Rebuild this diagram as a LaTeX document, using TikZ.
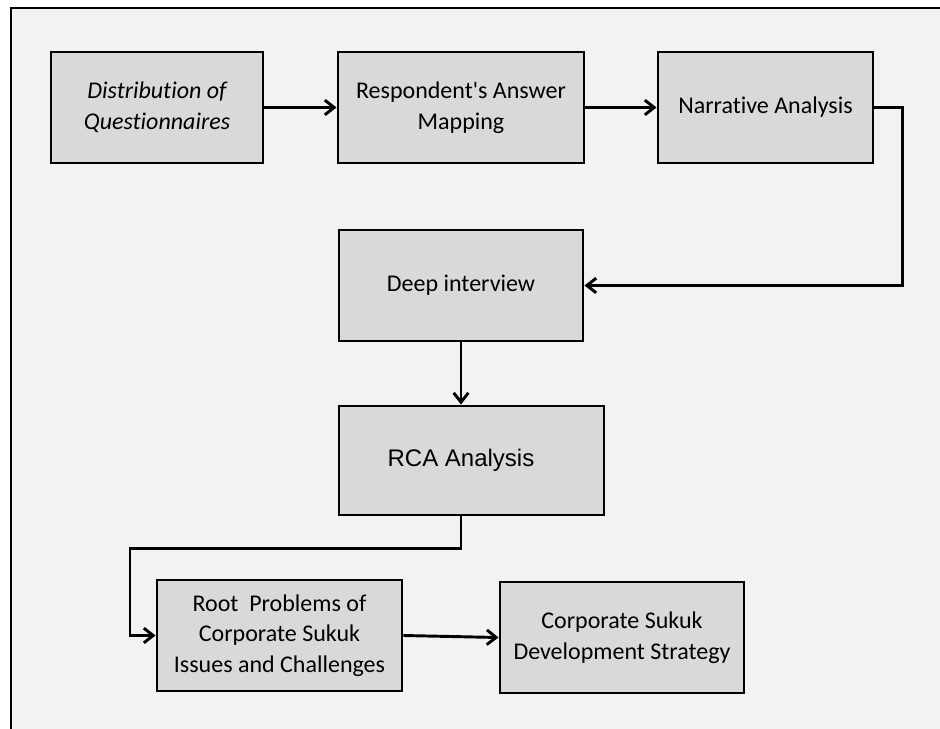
\documentclass[tikz,border=0pt]{standalone}
\usepackage{fontspec}
\setmainfont{Carlito}[Ligatures={TeXOff,NoCommon}]
\newfontfamily\arialfont{Liberation Sans}
\usetikzlibrary{arrows.meta}
\newlength\pxu
\setlength\pxu{0.75pt}
\definecolor{boxfill}{HTML}{D9D9D9}
\definecolor{panel}{HTML}{F2F2F2}
\tikzset{
  stepbox/.style={draw=black, line width=2.2pt, fill=boxfill, align=center,
    inner sep=2pt, font=\fontsize{18}{23}\selectfont},
  conn/.style={line width=2.2pt, -{Straight Barb[length=7pt,width=11pt]}}
}
\begin{document}
\begin{tikzpicture}[x=0.75pt,y=-0.75pt]
  \useasboundingbox (0,0) rectangle (940,729);
  \clip (0,0) rectangle (940,729);
  \fill[white] (0,0) rectangle (940,729);
  % panel frame, open to the right and bottom
  \draw[line width=1.8pt, fill=panel] (11,8) rectangle (960,760);

  % process steps
  \node[stepbox, minimum width=212\pxu, minimum height=111\pxu] (dist) at (157,107.5)
    {\itshape Distribution of\\\itshape Questionnaires};
  \node[stepbox, minimum width=246\pxu, minimum height=111\pxu] (resp) at (461,107.5)
    {Respondent's Answer\\Mapping};
  \node[stepbox, minimum width=215\pxu, minimum height=111\pxu] (narr) at (765.5,107.5)
    {Narrative Analysis};
  \node[stepbox, minimum width=244\pxu, minimum height=111\pxu] (deep) at (461,285.5)
    {Deep interview};
  \node[stepbox, minimum width=265\pxu, minimum height=109\pxu] (rca) at (471.5,460.5) {};
  \node[font=\arialfont\fontsize{18}{21}\selectfont] (rcatext) at (461,460.5) {RCA Analysis};
  \node[stepbox, minimum width=245\pxu, minimum height=111\pxu] (root) at (279.5,635.5)
    {Root~ Problems of\\Corporate Sukuk\\Issues and Challenges};
  \node[stepbox, minimum width=244\pxu, minimum height=111\pxu] (corp) at (622,637.5)
    {Corporate Sukuk\\Development Strategy};

  % connectors
  \draw[conn] (dist.east) -- (resp.west);
  \draw[conn] (resp.east) -- (narr.west);
  \draw[conn] (narr.east) -- ++(28,0) |- (deep.east);
  \draw[conn] (deep.south) -- (deep.south |- rca.north);
  \draw[conn] (deep.south |- rca.south) -- ++(0,32) -- ++(-331,0) |- (root.west);
  \draw[conn] (root.east) -- (corp.west);
\end{tikzpicture}
\end{document}
